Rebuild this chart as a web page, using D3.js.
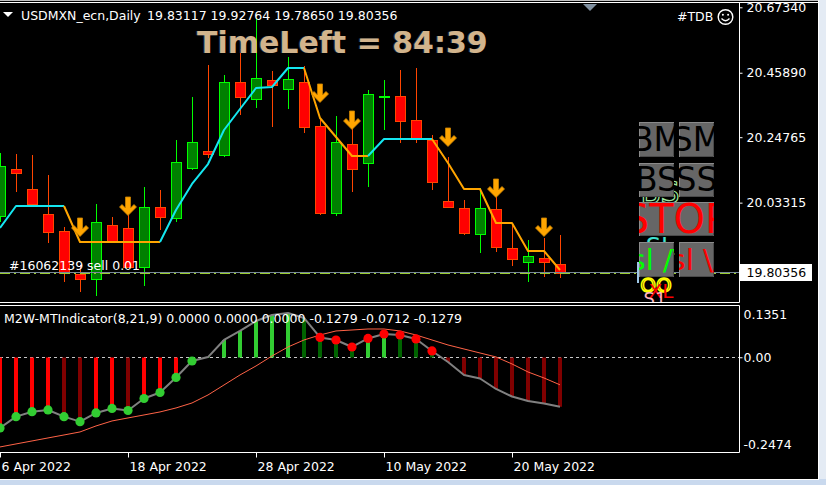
<!DOCTYPE html>
<html>
<head>
<meta charset="utf-8">
<script src="https://cdn.jsdelivr.net/npm/d3@7"></script>
<style>
  body { margin: 0; background: #000; }
  svg { display: block; }
  text { font-family: "DejaVu Sans", sans-serif; }
</style>
</head>
<body>
<svg id="chart" width="826" height="485"></svg>
<script>
// ---- USDMXN_ecn daily bars ----
const dates = [
  "2022-04-06","2022-04-07","2022-04-08","2022-04-11","2022-04-12","2022-04-13","2022-04-14","2022-04-15",
  "2022-04-18","2022-04-19","2022-04-20","2022-04-21","2022-04-22","2022-04-25","2022-04-26","2022-04-27",
  "2022-04-28","2022-04-29","2022-05-02","2022-05-03","2022-05-04","2022-05-05","2022-05-06","2022-05-09",
  "2022-05-10","2022-05-11","2022-05-12","2022-05-13","2022-05-16","2022-05-17","2022-05-18","2022-05-19",
  "2022-05-20","2022-05-23","2022-05-24","2022-05-25"
];
const open = [19.9894,20.1435,20.0779,19.9960,19.9402,19.7993,19.7829,19.9599,19.9501,19.8222,20.0189,19.9829,
  20.1467,20.2024,20.1893,20.4286,20.3729,20.4352,20.4057,20.4286,20.2844,19.9992,20.2254,20.1631,
  20.3778,20.3827,20.3041,20.2385,20.0386,20.0156,19.9304,20.0123,19.8845,19.8386,19.8517,19.83117];
const high = [20.1959,20.1926,20.1893,20.1238,19.9534,19.8288,20.0287,19.9861,19.9927,20.0845,20.0746,20.2385,
  20.3794,20.4843,20.4515,20.5368,20.6384,20.4647,20.5105,20.4810,20.3041,20.3172,20.2778,20.4024,
  20.4352,20.4679,20.4745,20.2549,20.1828,20.0418,20.0812,20.0550,19.9632,19.9107,19.9173,19.92764];
const low = [19.9697,20.0681,20.0255,19.9009,19.7731,19.7403,19.7272,19.9009,19.8190,19.7600,19.9435,19.9697,
  20.1402,20.1795,20.1828,20.3204,20.3434,20.2811,20.3401,20.2614,19.9927,19.9894,20.0681,20.0845,
  20.2713,20.2287,20.2287,20.0746,20.0189,19.9271,19.8681,19.8714,19.8255,19.7731,19.7895,19.78650];
const close = [20.1533,20.1303,20.0287,19.9370,19.8026,19.7829,19.9697,19.9042,19.8222,20.0189,19.9861,20.1664,
  20.2319,20.1926,20.4286,20.3794,20.4417,20.4188,20.4384,20.2811,19.9992,20.2319,20.1435,20.3893,
  20.3811,20.3008,20.2451,20.1008,20.0189,19.9337,20.0156,19.8878,19.8485,19.8583,19.8386,19.80356];

// trailing stop line and its direction (1 = up, -1 = down)
const trail = [19.9501,20.0222,20.0222,20.0222,20.0222,19.9042,19.9042,19.9042,19.9042,19.9042,19.9042,20.0091,
  20.0943,20.1598,20.2713,20.3401,20.4089,20.4122,20.4745,20.4745,20.3106,20.2483,20.1861,20.1861,
  20.2418,20.2418,20.2418,20.2418,20.1631,20.0779,20.0779,19.9665,19.9665,19.8747,19.8747,19.8124];
const trend = [1,1,1,1,1,-1,-1,-1,-1,-1,-1,1,1,1,1,1,1,1,1,1,-1,-1,-1,-1,1,1,1,1,-1,-1,-1,-1,-1,-1,-1,-1];

// sell arrow buffer (arrow tip price, null = no arrow)
const sellArrow = [null,null,null,null,null,19.9206,null,null,19.9894,null,null,null,null,null,null,null,
  null,null,null,null,20.3598,null,20.2713,null,null,null,null,null,20.2156,null,null,20.0484,
  null,null,19.9206,null];

const bidPrice = 19.80356;
const orderPrice = 19.8015;
const orderLabel = "#16062139 sell 0.01";
const priceTicks = [20.6734, 20.4589, 20.24765, 20.03315];

// ---- M2W-MTIndicator(8,21,9) ----
const mainLine = [-0.1827,-0.1535,-0.1406,-0.1362,-0.1535,-0.1664,-0.1439,-0.1323,-0.1375,-0.1065,-0.0910,-0.0522,
  -0.0096,0.0005,0.0447,0.0680,0.0938,0.1093,0.1145,0.1016,0.0512,0.0447,0.0266,0.0486,
  0.0602,0.0576,0.0473,0.0163,-0.0121,-0.0457,-0.0548,-0.0819,-0.1013,-0.1129,-0.1194,-0.1279];
const signalLine = [-0.2318,-0.2240,-0.2163,-0.2085,-0.2008,-0.1930,-0.1775,-0.1646,-0.1568,-0.1491,-0.1413,-0.1310,
  -0.1181,-0.0974,-0.0716,-0.0457,-0.0225,0.0034,0.0266,0.0447,0.0576,0.0680,0.0705,0.0731,
  0.0731,0.0680,0.0576,0.0447,0.0318,0.0214,0.0111,0.0008,-0.0173,-0.0380,-0.0535,-0.0712];
const indTicks = [0.1351, 0, -0.2474];

// ---- time axis ----
const tickDates = ["2022-04-06","2022-04-18","2022-04-28","2022-05-10","2022-05-20"];
const tickLabels = ["6 Apr 2022","18 Apr 2022","28 Apr 2022","10 May 2022","20 May 2022"];

// ================= drawing =================
const W = 826, H = 485;
const n = dates.length;
const barStep = 16;
const svg = d3.select("#chart");

const panel = { right: 739.5, mainTop: 3, mainBottom: 302.5, indTop: 305.5, indBottom: 452.5 };

svg.append("rect").attr("width", W).attr("height", H).attr("fill", "#000");

const x = d3.scalePoint().domain(dates).range([0, barStep * (n - 1)]);
const y = d3.scaleLinear().domain([bidPrice, 20.6734]).range([272.7, 7.3]);
const yi = d3.scaleLinear().domain([-0.2474, 0.1351]).range([453, 305]);

const defs = svg.append("defs");
defs.append("clipPath").attr("id", "clipMain").append("rect")
  .attr("x", 0).attr("y", panel.mainTop).attr("width", panel.right).attr("height", panel.mainBottom - panel.mainTop);
defs.append("clipPath").attr("id", "clipInd").append("rect")
  .attr("x", 0).attr("y", panel.indTop).attr("width", panel.right).attr("height", panel.indBottom - panel.indTop);

const main = svg.append("g").attr("clip-path", "url(#clipMain)");

// header
svg.append("path").attr("d", "M3,12 L13,12 L8,17 Z").attr("fill", "#fff");
svg.append("text").attr("x", 21).attr("y", 20).attr("font-size", 12.5).attr("fill", "#fff")
  .text("USDMXN_ecn,Daily");
svg.append("text").attr("x", 147).attr("y", 20).attr("font-size", 12.5).attr("fill", "#fff")
  .text([open[n-1], high[n-1], low[n-1], close[n-1]].map(v => v.toFixed(5)).join(" "));

// chart-shift marker
svg.append("path").attr("d", "M583,4 L597,4 L590,11 Z").attr("fill", "#8090a0");

// #TDB label with smiley
svg.append("text").attr("x", 677).attr("y", 21).attr("font-size", 12.5).attr("fill", "#fff").text("#TDB");
const smile = svg.append("g").attr("transform", "translate(725.5,17)");
smile.append("circle").attr("r", 7.3).attr("fill", "none").attr("stroke", "#fff").attr("stroke-width", 1.4);
smile.append("circle").attr("cx", -2.6).attr("cy", -2.2).attr("r", 1).attr("fill", "#fff");
smile.append("circle").attr("cx", 2.6).attr("cy", -2.2).attr("r", 1).attr("fill", "#fff");
smile.append("path").attr("d", "M-4,1.5 Q0,6 4,1.5").attr("fill", "none").attr("stroke", "#fff").attr("stroke-width", 1.3);

// candles
const bull = { fill: "#008000", edge: "#00ff00" };
const bear = { fill: "#ff0000", edge: "#ff4500" };
const candles = main.append("g");
d3.range(n).forEach(i => {
  const cx = Math.round(x(dates[i]));
  const up = close[i] >= open[i];
  const c = up ? bull : bear;
  candles.append("line")
    .attr("x1", cx + 0.5).attr("x2", cx + 0.5)
    .attr("y1", Math.round(y(high[i]))).attr("y2", Math.round(y(low[i])))
    .attr("stroke", c.edge).attr("stroke-width", 1);
  const top = Math.round(y(Math.max(open[i], close[i])));
  const bot = Math.round(y(Math.min(open[i], close[i])));
  candles.append("rect")
    .attr("x", cx - 4.5).attr("y", top + 0.5)
    .attr("width", 10).attr("height", Math.max(0, bot - top))
    .attr("fill", c.fill).attr("stroke", c.edge).attr("stroke-width", 1);
});

// trailing line, coloured by direction
const trailLine = d3.line().x(i => x(dates[i])).y(i => y(trail[i]));
let runStart = 1;
for (let i = 2; i <= n; i++) {
  if (i === n || trend[i] !== trend[runStart]) {
    main.append("path")
      .attr("d", trailLine(d3.range(runStart - 1, i)))
      .attr("fill", "none")
      .attr("stroke", trend[runStart] > 0 ? "#14e6f0" : "#ffa500")
      .attr("stroke-width", 2)
      .attr("stroke-linejoin", "round");
    runStart = i;
  }
}

// sell arrows
const arrowShape = "M-2.5,-19 L2.5,-19 L2.5,-8 L6,-11.5 L8.5,-9 L0,-0.5 L-8.5,-9 L-6,-11.5 L-2.5,-8 Z";
d3.range(n).filter(i => sellArrow[i] !== null).forEach(i => {
  main.append("path")
    .attr("transform", `translate(${x(dates[i])},${y(sellArrow[i])})`)
    .attr("d", arrowShape)
    .attr("fill", "#ffa500").attr("stroke", "#c98200").attr("stroke-width", 0.8);
});

// bid line and order line
const bidY = Math.floor(y(bidPrice)) + 0.5;
main.append("line").attr("x1", 0).attr("x2", panel.right).attr("y1", bidY).attr("y2", bidY)
  .attr("stroke", "#778899").attr("stroke-width", 1);
const ordY = Math.floor(y(orderPrice)) + 0.5;
main.append("line").attr("x1", 0).attr("x2", panel.right).attr("y1", ordY).attr("y2", ordY)
  .attr("stroke", "#9acd32").attr("stroke-width", 1).attr("stroke-dasharray", "10,4,2,4");
main.append("text").attr("x", 9).attr("y", 270).attr("font-size", 12.5).attr("fill", "#fff").text(orderLabel);

// objects lying under the trade panel
main.append("rect").attr("x", 637).attr("y", 262).attr("width", 2).attr("height", 21).attr("fill", "#9ec9e8");
main.append("text").attr("x", 660).attr("y", 203).attr("text-anchor", "middle").attr("font-size", 30)
  .attr("fill", "none").attr("stroke", "#9fe89f").attr("stroke-width", 1.2).text("BS");
main.append("text").attr("x", 660).attr("y", 255).attr("text-anchor", "middle").attr("font-size", 24)
  .attr("fill", "#40e0d0").text("SL");
main.append("text").attr("x", 656).attr("y", 292).attr("text-anchor", "middle").attr("font-size", 20)
  .attr("fill", "none").attr("stroke", "#ffff00").attr("stroke-width", 1.5).text("OO");
main.append("text").attr("x", 661).attr("y", 298).attr("text-anchor", "middle").attr("font-size", 20)
  .attr("fill", "#ff0000").text("XL");
main.append("text").attr("x", 655).attr("y", 305).attr("text-anchor", "middle").attr("font-size", 18)
  .attr("fill", "#ffb6c1").text("S1");

// trade panel buttons
const buttons = [
  { label: "BM", x: 639, y: 122, w: 35, h: 35, color: "#000", size: 33, base: 151 },
  { label: "SM", x: 679, y: 122, w: 35, h: 35, color: "#000", size: 33, base: 151 },
  { label: "BS", x: 639, y: 163, w: 35, h: 34, color: "#000", size: 33, base: 191 },
  { label: "SS", x: 679, y: 163, w: 35, h: 34, color: "#000", size: 33, base: 191 },
  { label: "STOP", x: 639, y: 202, w: 75, h: 34, color: "#ff0000", size: 40, base: 233 },
  { label: "sl /\\", x: 639, y: 242, w: 35, h: 35, color: "#00ff00", size: 29, base: 270 },
  { label: "sl \\/", x: 679, y: 242, w: 35, h: 35, color: "#ff0000", size: 29, base: 270 }
];
buttons.forEach((b, k) => {
  defs.append("clipPath").attr("id", "btn" + k).append("rect")
    .attr("x", b.x).attr("y", b.y).attr("width", b.w).attr("height", b.h);
  const g = main.append("g");
  g.append("rect").attr("x", b.x + 0.5).attr("y", b.y + 0.5).attr("width", b.w - 1).attr("height", b.h - 1)
    .attr("fill", "#666666").attr("stroke", "#8a8a8a").attr("stroke-width", 1);
  g.append("path")
    .attr("d", `M${b.x + b.w - 0.5},${b.y + 1} V${b.y + b.h - 0.5} H${b.x + 1}`)
    .attr("fill", "none").attr("stroke", "#4a4a4a").attr("stroke-width", 1);
  g.append("text").attr("clip-path", `url(#btn${k})`)
    .attr("x", b.x + b.w / 2).attr("y", b.base).attr("text-anchor", "middle")
    .attr("font-size", b.size).attr("fill", b.color).text(b.label);
});

// countdown
const tl = svg.append("g");
tl.append("text").attr("x", 196).attr("y", 53).attr("font-size", 30).attr("font-weight", "bold")
  .attr("fill", "#1e2a48").text("TimeLeft = 84:39");
tl.append("text").attr("x", 197).attr("y", 53).attr("font-size", 30).attr("font-weight", "bold")
  .attr("fill", "#d2b48c").text("TimeLeft = 84:39");

// price axis
const pAxis = svg.append("g").attr("transform", `translate(${panel.right},0)`)
  .call(d3.axisRight(y).tickValues(priceTicks).tickSize(3).tickPadding(4).tickFormat(v => v.toFixed(5)));
pAxis.select(".domain").remove();
pAxis.selectAll("line").attr("stroke", "#fff");
pAxis.selectAll("text").attr("fill", "#fff").attr("font-size", 12.5).attr("font-family", "DejaVu Sans");

// current price box
const bidBox = svg.append("g");
bidBox.append("rect").attr("x", 740).attr("y", 264).attr("width", 72).attr("height", 17).attr("fill", "#fff");
bidBox.append("text").attr("x", 746.5).attr("y", y(bidPrice) + 4.5).attr("font-size", 12.5).attr("fill", "#000")
  .text(bidPrice.toFixed(5));

// ---- indicator window ----
const ind = svg.append("g").attr("clip-path", "url(#clipInd)");
const zeroY = Math.floor(yi(0)) + 0.5;
ind.append("line").attr("x1", 0).attr("x2", panel.right).attr("y1", zeroY).attr("y2", zeroY)
  .attr("stroke", "#c8c8c8").attr("stroke-dasharray", "3,3");

d3.range(n).forEach(i => {
  const v = mainLine[i];
  const rising = i === 0 || v >= mainLine[i - 1];
  const col = v >= 0 ? (rising ? "#32cd32" : "#006400") : (rising ? "#ff0000" : "#800000");
  const yv = yi(v);
  ind.append("rect")
    .attr("x", Math.round(x(dates[i])) - 2).attr("width", 4)
    .attr("y", Math.min(yv, zeroY)).attr("height", Math.abs(yv - zeroY))
    .attr("fill", col);
});

ind.append("path")
  .attr("d", d3.line().x((d, i) => x(dates[i])).y(d => yi(d))(signalLine))
  .attr("fill", "none").attr("stroke", "#ff6347").attr("stroke-width", 1);
ind.append("path")
  .attr("d", d3.line().x((d, i) => x(dates[i])).y(d => yi(d))(mainLine))
  .attr("fill", "none").attr("stroke", "#808080").attr("stroke-width", 2).attr("stroke-linejoin", "round");

d3.range(n).forEach(i => {
  const v = mainLine[i], s = signalLine[i];
  let col = null;
  if (v < 0 && v > s) col = "#32cd32";
  else if (v > 0 && v < s) col = "#ff0000";
  if (col) ind.append("circle").attr("cx", x(dates[i])).attr("cy", yi(v)).attr("r", 4.6).attr("fill", col);
});

svg.append("text").attr("x", 4).attr("y", 323).attr("font-size", 12.5).attr("fill", "#fff")
  .text("M2W-MTIndicator(8,21,9) " +
    [0, 0, 0, mainLine[n - 1], signalLine[n - 1], mainLine[n - 1]].map(v => v.toFixed(4)).join(" "));

const iAxis = svg.append("g").attr("transform", `translate(${panel.right},0)`)
  .call(d3.axisRight(yi).tickValues(indTicks).tickSize(3).tickPadding(1)
    .tickFormat(v => v === 0 ? "0.00" : v.toFixed(4)));
iAxis.select(".domain").remove();
iAxis.selectAll("line").attr("stroke", "#fff").attr("opacity", d => d === 0 ? 1 : 0);
iAxis.selectAll("text").attr("fill", "#fff").attr("font-size", 12.5).attr("font-family", "DejaVu Sans")
  .attr("dy", d => d === indTicks[0] ? "1.1em" : d === indTicks[2] ? "-0.4em" : "0.32em");

// time axis
const tAxis = svg.append("g").attr("transform", `translate(0,${panel.indBottom})`)
  .call(d3.axisBottom(x).tickValues(tickDates).tickSize(5).tickPadding(5)
    .tickFormat(d => tickLabels[tickDates.indexOf(d)]));
tAxis.select(".domain").remove();
tAxis.selectAll("line").attr("stroke", "#fff");
tAxis.selectAll("text").attr("fill", "#fff").attr("font-size", 12.5).attr("font-family", "DejaVu Sans")
  .attr("text-anchor", "start").attr("dx", 1);

// panel frames
const frame = svg.append("g").attr("stroke", "#fff").attr("stroke-width", 1).attr("fill", "none");
frame.append("path").attr("d", `M0,${panel.mainBottom} H${panel.right} V${panel.mainTop}`);
frame.append("path").attr("d", `M0,${panel.indTop} H${panel.right} V${panel.indBottom} H0`);

// window border
svg.append("rect").attr("x", 0).attr("y", 0).attr("width", 818).attr("height", 1).attr("fill", "#c0c0c0");
svg.append("rect").attr("x", 0).attr("y", 2).attr("width", 818).attr("height", 1).attr("fill", "#fff");
svg.append("rect").attr("x", 818).attr("y", 0).attr("width", 8).attr("height", H).attr("fill", "#e4ebf4");
svg.append("rect").attr("x", 818).attr("y", 0).attr("width", 1).attr("height", H).attr("fill", "#fff");
svg.append("rect").attr("x", 0).attr("y", 479).attr("width", W).attr("height", 6).attr("fill", "#c9d9ee");
svg.append("rect").attr("x", 0).attr("y", 479).attr("width", 819).attr("height", 1).attr("fill", "#fff");
</script>
</body>
</html>
